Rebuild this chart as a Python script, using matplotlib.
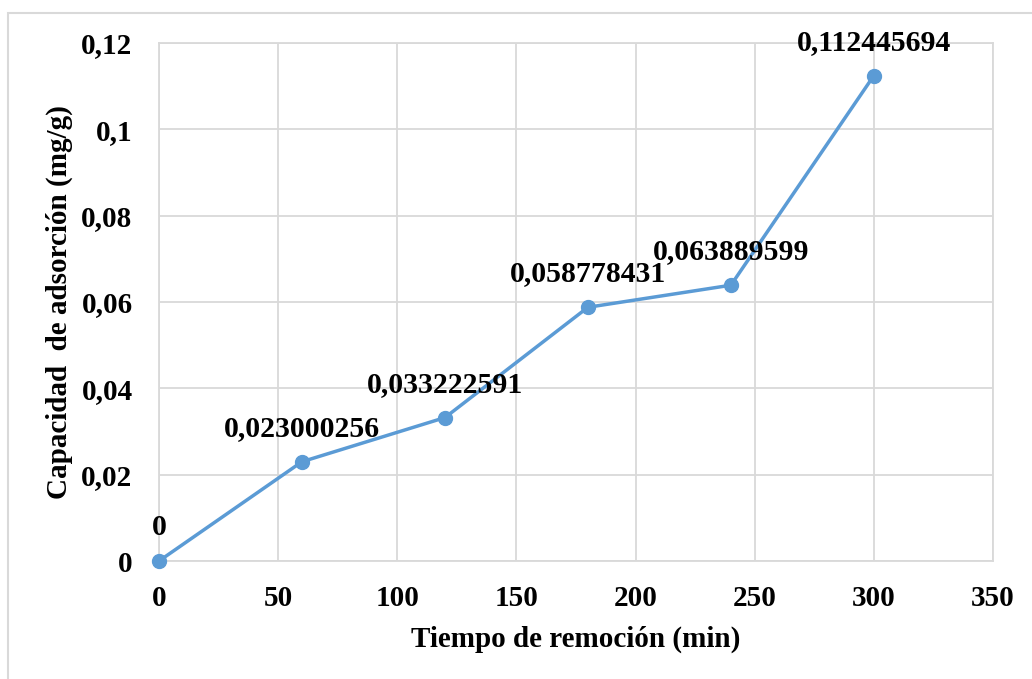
import matplotlib.pyplot as plt
from matplotlib.patches import Rectangle

# Adsorption capacity vs removal time
tiempo = [0, 60, 120, 180, 240, 300]
capacidad = [0, 0.023000256, 0.033222591, 0.058778431, 0.063889599, 0.112445694]
etiquetas = ['0', '0,023000256', '0,033222591', '0,058778431', '0,063889599', '0,112445694']

x_ticks = [0, 50, 100, 150, 200, 250, 300, 350]
y_ticks = [0, 0.02, 0.04, 0.06, 0.08, 0.1, 0.12]
y_tick_labels = ['0', '0,02', '0,04', '0,06', '0,08', '0,1', '0,12']

plt.rcParams['font.family'] = 'Liberation Serif'
plt.rcParams['font.weight'] = 'bold'

fig = plt.figure(figsize=(10.32, 6.79), dpi=100)
ax = fig.add_axes([159 / 1032, 1 - 561 / 679, (993 - 159) / 1032, (561 - 43) / 679])

# light frame around the chart area
fig.patches.append(Rectangle((8 / 1032, -0.1), 1.2, 1 - 13 / 679 + 0.1, transform=fig.transFigure,
                             fill=False, edgecolor='#D9D9D9', linewidth=1.5))

ax.plot(tiempo, capacidad, color='#5B9BD5', linewidth=2.5, marker='o', markersize=10,
        clip_on=False, zorder=3)

for x, y, t in zip(tiempo, capacidad, etiquetas):
    ax.annotate(t, (x, y), xytext=(0, 24), textcoords='offset points', ha='center', va='center',
                fontsize=21.4, fontweight='bold', color='black', zorder=4)

ax.set_xlim(0, 350)
ax.set_ylim(0, 0.12)
ax.set_xticks(x_ticks)
ax.set_xticklabels([str(v) for v in x_ticks])
ax.set_yticks(y_ticks)
ax.set_yticklabels(y_tick_labels)
ax.tick_params(axis='both', length=0, labelsize=21)
ax.tick_params(axis='x', pad=17)
ax.tick_params(axis='y', pad=19)

ax.grid(True, color='#D9D9D9', linewidth=1.3)
ax.set_axisbelow(True)
for s in ax.spines.values():
    s.set_color('#D9D9D9')
    s.set_linewidth(1.3)

ax.set_xlabel('Tiempo de remoción (min)', fontsize=21, fontweight='bold', labelpad=10)
ax.set_ylabel('Capacidad  de adsorción (mg/g)', fontsize=21, fontweight='bold', labelpad=6)

fig.savefig('out.png', dpi=100)
